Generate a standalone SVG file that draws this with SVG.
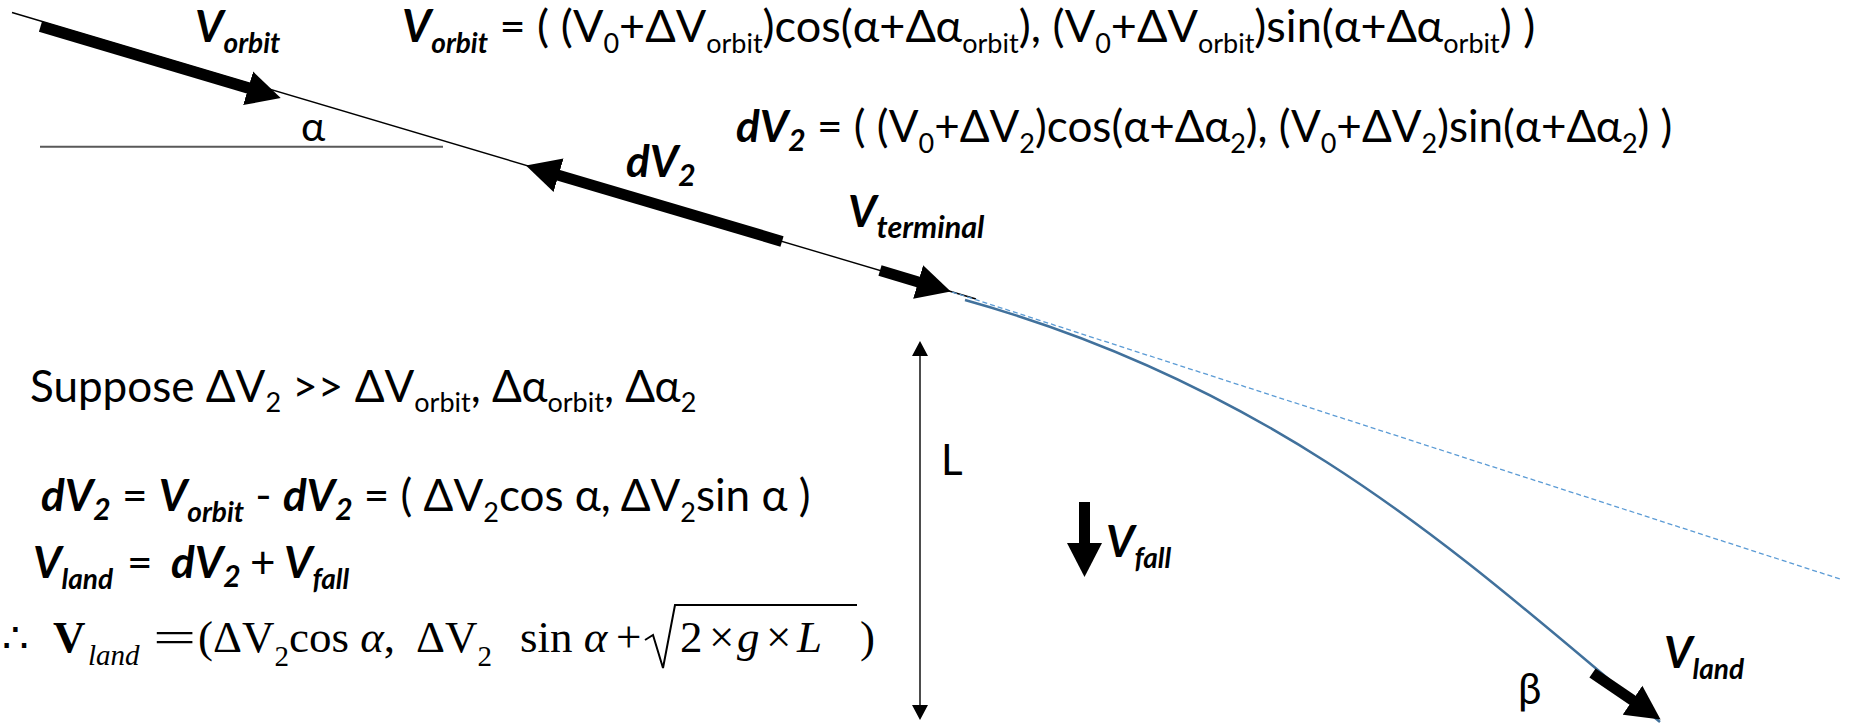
<svg xmlns="http://www.w3.org/2000/svg" width="1853" height="724" viewBox="0 0 1853 724">
<style>
.t{font-family:Lato,"Open Sans","DejaVu Sans",sans-serif;fill:#000}
.bi{font-weight:bold;font-style:italic}
.m{font-family:"Liberation Serif","DejaVu Serif",serif;fill:#000}
.thin{stroke:#000;stroke-width:1.4;fill:none}
.shaft{stroke:#000;stroke-width:11;fill:none}
</style>
<defs>
<marker id="head" viewBox="0 -18 36 36" markerWidth="36" markerHeight="36" refX="1" refY="0" markerUnits="userSpaceOnUse" orient="auto">
<path d="M0,-17.5 L34,0 L0,17.5 z" fill="#000"/>
</marker>
<marker id="small" viewBox="0 -9 16 18" markerWidth="16" markerHeight="18" refX="1" refY="0" markerUnits="userSpaceOnUse" orient="auto-start-reverse">
<path d="M0,-8 L15,0 L0,8 z" fill="#000"/>
</marker>
</defs>

<g id="connectors">
<line class="thin" x1="12" y1="12.5" x2="976" y2="299"/>
<line x1="40" y1="146.7" x2="443" y2="146.7" stroke="#595959" stroke-width="2"/>
<line x1="952" y1="292" x2="1840" y2="579" stroke="#5B9BD5" stroke-width="1.3" stroke-dasharray="5,3"/>
<path d="M965,300 C1295,392 1480,574 1660,722" fill="none" stroke="#41719C" stroke-width="2.5"/>
<line class="thin" x1="920" y1="355" x2="920" y2="706" stroke-width="2" marker-start="url(#small)" marker-end="url(#small)"/>
</g>

<g id="arrow-vorbit"><line class="shaft" x1="40.5" y1="26.6" x2="249.1" y2="88.6" marker-end="url(#head)"/></g>
<g id="arrow-dv2"><line class="shaft" x1="782" y1="241.4" x2="557.6" y2="174.9" marker-end="url(#head)"/></g>
<g id="arrow-vterminal"><line class="shaft" x1="880" y1="270.6" x2="919.1" y2="282.2" marker-end="url(#head)"/></g>
<g id="arrow-vfall"><line class="shaft" x1="1084.5" y1="502" x2="1084.5" y2="544" marker-end="url(#head)"/></g>
<g id="arrow-vland"><line class="shaft" x1="1592.5" y1="673" x2="1633.3" y2="700.8" marker-end="url(#head)"/></g>

<g id="label-vorbit"><text class="t bi" x="195" y="42" font-size="44">V<tspan font-size="28" dy="11">orbit</tspan></text></g>
<g id="label-alpha"><text class="t" x="301" y="141" font-size="41">α</text></g>
<g id="label-dv2"><text class="t bi" x="626" y="177" font-size="44">dV<tspan font-size="30" dy="9">2</tspan></text></g>
<g id="label-vterminal"><text class="t bi" x="848" y="227" font-size="44">V<tspan font-size="30.5" dy="11">terminal</tspan></text></g>

<g id="formula-vorbit"><text class="t" x="402" y="42" font-size="45"><tspan class="bi">V</tspan><tspan class="bi" font-size="28" dy="11">orbit</tspan><tspan dy="-11"> = ( (V</tspan><tspan font-size="27" dy="11">0</tspan><tspan dy="-11">+ΔV</tspan><tspan font-size="27" dy="11">orbit</tspan><tspan dy="-11">)cos(α+Δα</tspan><tspan font-size="27" dy="11">orbit</tspan><tspan dy="-11">), (V</tspan><tspan font-size="27" dy="11">0</tspan><tspan dy="-11">+ΔV</tspan><tspan font-size="27" dy="11">orbit</tspan><tspan dy="-11">)sin(α+Δα</tspan><tspan font-size="27" dy="11">orbit</tspan><tspan dy="-11">) )</tspan></text></g>

<g id="formula-dv2"><text class="t" x="736" y="142" font-size="44"><tspan class="bi">dV</tspan><tspan class="bi" font-size="30" dy="9">2</tspan><tspan dy="-9"> = ( (V</tspan><tspan font-size="27" dy="11">0</tspan><tspan dy="-11">+ΔV</tspan><tspan font-size="27" dy="11">2</tspan><tspan dy="-11">)cos(α+Δα</tspan><tspan font-size="27" dy="11">2</tspan><tspan dy="-11">), (V</tspan><tspan font-size="27" dy="11">0</tspan><tspan dy="-11">+ΔV</tspan><tspan font-size="27" dy="11">2</tspan><tspan dy="-11">)sin(α+Δα</tspan><tspan font-size="27" dy="11">2</tspan><tspan dy="-11">) )</tspan></text></g>

<g id="text-suppose"><text class="t" x="30" y="402" font-size="44">Suppose ΔV<tspan font-size="27" dy="10">2</tspan><tspan dy="-10"> &gt;&gt; ΔV</tspan><tspan font-size="27" dy="10">orbit</tspan><tspan dy="-10">, Δα</tspan><tspan font-size="27" dy="10">orbit</tspan><tspan dy="-10">, Δα</tspan><tspan font-size="27" dy="10">2</tspan></text></g>

<g id="text-dv2-eq"><text class="t" x="41" y="511" font-size="44"><tspan class="bi">dV</tspan><tspan class="bi" font-size="30" dy="9">2</tspan><tspan dy="-9"> = </tspan><tspan class="bi">V</tspan><tspan class="bi" font-size="28" dy="11">orbit</tspan><tspan dy="-11"> - </tspan><tspan class="bi">dV</tspan><tspan class="bi" font-size="30" dy="9">2</tspan><tspan dy="-9"> = ( ΔV</tspan><tspan font-size="27" dy="11">2</tspan><tspan dy="-11">cos α, ΔV</tspan><tspan font-size="27" dy="11">2</tspan><tspan dy="-11">sin α )</tspan></text></g>

<g id="text-vland-eq">
<text class="t bi" x="33" y="578" font-size="44">V<tspan font-size="28" dy="11">land</tspan></text>
<text class="t" x="127" y="578" font-size="44">=</text>
<text class="t bi" x="171" y="578" font-size="44">dV<tspan font-size="30" dy="9">2</tspan></text>
<text class="t" x="250" y="578" font-size="44">+</text>
<text class="t bi" x="284" y="578" font-size="44">V<tspan font-size="28" dy="11">fall</tspan></text>
</g>

<g id="formula-final">
<text class="m" x="2" y="652" font-size="42">∴</text>
<text class="m" x="53" y="652" font-size="45" font-weight="bold">V</text>
<text class="m" x="88" y="665" font-size="29" font-style="italic">land</text>
<text class="m" transform="translate(153,652) scale(1.7,1)" font-size="45">=</text>
<text class="m" x="198" y="652" font-size="45">(ΔV<tspan font-size="29" dy="14">2</tspan><tspan dy="-14">cos </tspan><tspan font-style="italic">α</tspan>,</text>
<text class="m" x="416" y="652" font-size="45">ΔV<tspan font-size="29" dy="14">2</tspan></text>
<text class="m" x="520" y="652" font-size="45">sin <tspan font-style="italic">α</tspan></text>
<text class="m" x="616" y="652" font-size="45">+</text>
<polyline points="645,640 653,635 663,668 675,605 857,605" fill="none" stroke="#000" stroke-width="2"/>
<text class="m" x="680" y="652" font-size="45">2</text>
<text class="m" x="709" y="652" font-size="45">×</text>
<text class="m" x="737" y="652" font-size="45" font-style="italic">g</text>
<text class="m" x="766" y="652" font-size="45">×</text>
<text class="m" x="797" y="652" font-size="45" font-style="italic">L</text>
<text class="m" x="860" y="652" font-size="45">)</text>
</g>

<g id="label-l"><text class="t" x="941" y="475" font-size="42">L</text></g>
<g id="label-vfall"><text class="t bi" x="1106" y="557" font-size="44">V<tspan font-size="28" dy="11">fall</tspan></text></g>
<g id="label-beta"><text class="t" x="1518" y="704" font-size="42">β</text></g>
<g id="label-vland"><text class="t bi" x="1664" y="668" font-size="44">V<tspan font-size="28" dy="11">land</tspan></text></g>
</svg>
